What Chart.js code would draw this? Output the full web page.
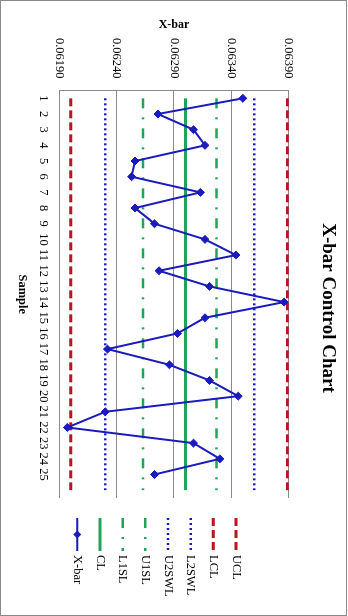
<!DOCTYPE html>
<html>
<head>
<meta charset="utf-8">
<script src="https://cdn.jsdelivr.net/npm/chart.js"></script>
<style>
  html, body { margin: 0; padding: 0; background: #fff; overflow: hidden; }
  #rot {
    position: absolute; left: 0; top: 0;
    width: 616px; height: 348px;
    transform-origin: 0 0;
    transform: translate(348px, 0) rotate(90deg);
    background: #fff;
  }
  #frame {
    position: absolute; left: 0; top: 1px; width: 614px; height: 345px;
    border: 1px solid #8a8a8a; pointer-events: none;
  }
  canvas { position: absolute; left: 0; top: 0; }
</style>
</head>
<body>
<div id="rot">
  <canvas id="c" width="616" height="348"></canvas>
  <div id="frame"></div>
</div>
<script>
// ---- data ----
const samples = ['1','2','3','4','5','6','7','8','9','10','11','12','13','14','15','16','17','18','19','20','21','22','23','24','25'];
const xbar = [0.06350, 0.06276, 0.06307, 0.06317, 0.06256, 0.06253, 0.06313, 0.06256, 0.06273, 0.06317,
              0.06344, 0.06277, 0.06321, 0.06386, 0.06317, 0.06293, 0.06232, 0.06286, 0.06321, 0.06346,
              0.06230, 0.06197, 0.06307, 0.06330, 0.06273];
const limitNames  = ['CL', 'U1SL', 'L1SL', 'U2SWL', 'L2SWL', 'UCL', 'LCL'];
const limitValues = [0.06300, 0.06327, 0.06263, 0.06360, 0.06230, 0.06389, 0.06200];
const yTicks      = [0.0619, 0.0624, 0.0629, 0.0634, 0.0639];
const yTickLabels = ['0.06190', '0.06240', '0.06290', '0.06340', '0.06390'];
const legendOrder = ['UCL', 'LCL', 'L2SWL', 'U2SWL', 'U1SL', 'L1SL', 'CL', 'X-bar'];

// ---- styles ----
const BLUE = '#1a1abd', GREEN = '#22a458', RED = '#b8161e', GRID = '#8a8a8a';
const FONT = '"Liberation Serif", "Times New Roman", serif';
const lineStyles = {
  'CL':    { color: GREEN, width: 3,   dash: [] },
  'U1SL':  { color: GREEN, width: 2.5, dash: [10, 9, 2, 9] },
  'L1SL':  { color: GREEN, width: 2.5, dash: [10, 9, 2, 9] },
  'U2SWL': { color: BLUE,  width: 2.5, dash: [2, 3] },
  'L2SWL': { color: BLUE,  width: 2.5, dash: [2, 3] },
  'UCL':   { color: RED,   width: 3,   dash: [8, 4] },
  'LCL':   { color: RED,   width: 3,   dash: [8, 4] }
};

const categories = samples.concat(['']);

const datasets = [{
  label: 'X-bar',
  data: xbar,
  borderColor: BLUE,
  backgroundColor: BLUE,
  borderWidth: 2,
  pointStyle: 'rectRot',
  pointRadius: 4,
  pointBorderWidth: 1,
  pointBackgroundColor: BLUE,
  pointBorderColor: BLUE,
  tension: 0
}].concat(limitNames.map((name, i) => ({
  label: name,
  data: categories.map(() => limitValues[i]),
  borderColor: lineStyles[name].color,
  backgroundColor: lineStyles[name].color,
  borderWidth: lineStyles[name].width,
  borderDash: lineStyles[name].dash,
  pointRadius: 0,
  tension: 0
})));

const customLegend = {
  id: 'customLegend',
  afterDraw(chart) {
    const ctx = chart.ctx;
    const x0 = 518, x1 = 551, tx = 555, y0 = 112, step = 22.67;
    legendOrder.forEach((name, i) => {
      const ds = chart.data.datasets.find(d => d.label === name);
      const y = y0 + i * step;
      ctx.save();
      ctx.strokeStyle = ds.borderColor;
      ctx.lineWidth = ds.borderWidth;
      ctx.setLineDash(ds.borderDash || []);
      ctx.beginPath(); ctx.moveTo(x0, y); ctx.lineTo(x1, y); ctx.stroke();
      if (ds.pointRadius) {
        const cx = (x0 + x1) / 2, r = ds.pointRadius;
        ctx.setLineDash([]);
        ctx.fillStyle = ds.pointBackgroundColor;
        ctx.beginPath();
        ctx.moveTo(cx, y - r); ctx.lineTo(cx + r, y); ctx.lineTo(cx, y + r); ctx.lineTo(cx - r, y);
        ctx.closePath(); ctx.fill();
      }
      ctx.fillStyle = '#000';
      ctx.font = '12.5px ' + FONT;
      ctx.textBaseline = 'middle';
      ctx.textAlign = 'left';
      ctx.fillText(name, tx, y);
      ctx.restore();
    });
  }
};

new Chart(document.getElementById('c'), {
  type: 'line',
  data: { labels: categories, datasets: datasets },
  plugins: [customLegend],
  options: {
    responsive: false,
    animation: false,
    devicePixelRatio: 1,
    layout: { padding: 0 },
    plugins: {
      legend: { display: false },
      tooltip: { enabled: false },
      title: {
        display: true,
        text: 'X-bar Control Chart',
        color: '#000',
        font: { family: FONT, size: 19, weight: 'bold', lineHeight: 1.2 },
        padding: { top: 9, bottom: 27.5 }
      }
    },
    scales: {
      x: {
        type: 'category',
        offset: true,
        grid: { display: false, drawTicks: false },
        border: { display: false },
        ticks: { color: '#000', font: { family: FONT, size: 12.5 }, autoSkip: false, maxRotation: 0, minRotation: 0, padding: 9 },
        title: { display: true, text: 'Sample', color: '#000', font: { family: FONT, size: 12.5, weight: 'bold', lineHeight: 1.2 }, padding: { top: 0, bottom: 15 } },
        afterFit(scale) { scale.height = 59.3; }
      },
      y: {
        min: 0.0619,
        max: 0.0639,
        grid: { color: GRID, lineWidth: 1, drawTicks: false },
        border: { display: true, color: GRID, width: 1 },
        afterBuildTicks(scale) { scale.ticks = yTicks.map(v => ({ value: v })); },
        ticks: { color: '#000', font: { family: FONT, size: 12.5 }, padding: 12, callback: (v, i) => yTickLabels[i] },
        title: { display: true, text: 'X-bar', color: '#000', font: { family: FONT, size: 12, weight: 'bold', lineHeight: 1.2 }, padding: { top: 17.8, bottom: 0 } },
        afterFit(scale) { scale.width = 90.5; }
      },
      legendSpace: {
        type: 'linear',
        position: 'right',
        display: true,
        grid: { display: false, drawTicks: false },
        border: { display: false },
        ticks: { display: false },
        afterFit(scale) { scale.width = 118; }
      }
    }
  }
});
</script>
</body>
</html>
